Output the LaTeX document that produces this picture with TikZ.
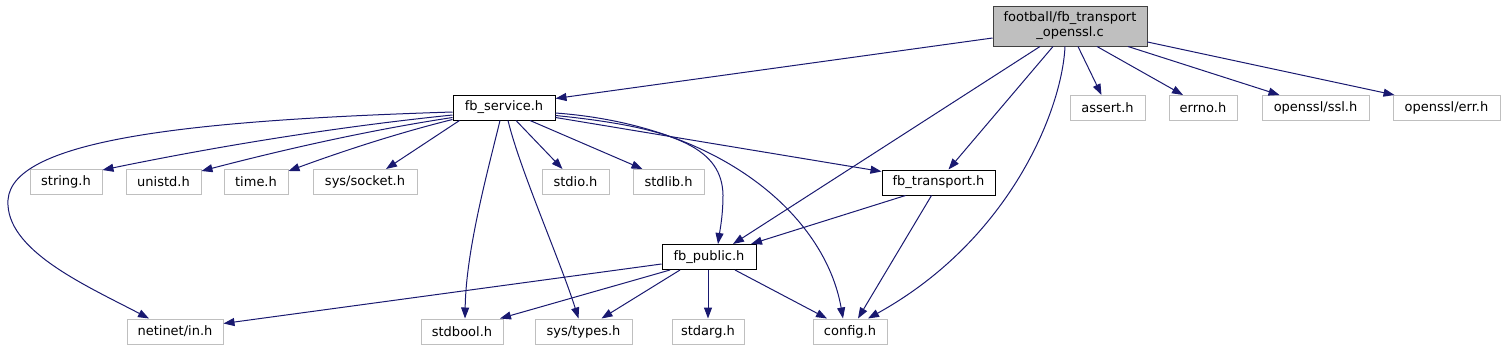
\documentclass[tikz,border=0pt]{standalone}
\usepackage{fontspec}
\setmainfont{DejaVu Sans}
\usetikzlibrary{arrows.meta}
\definecolor{edgeblue}{HTML}{191970}
\definecolor{leafgray}{HTML}{BFBFBF}
\definecolor{rootfill}{HTML}{BFBFBF}
\definecolor{rootdraw}{HTML}{404040}
\begin{document}
\begin{tikzpicture}[x=1pt,y=-1pt,
  nbox/.style={draw, line width=1pt, minimum height=25pt, inner sep=0pt,
    font=\fontsize{13}{15}\selectfont, text=black},
  leaf/.style={nbox, draw=leafgray},
  incl/.style={nbox, draw=black},
  root/.style={nbox, draw=rootdraw, fill=rootfill, align=center, minimum height=40pt},
  dep/.style={draw=edgeblue, line width=1pt, -{Triangle[length=11pt,width=8pt]}}
]
\useasboundingbox (0,0) rectangle (1504,351);

% nodes
\node[root, minimum width=154pt] (T) at (1070,26) {football/fb\_transport\\\_openssl.c};
\node[incl, minimum width=102pt] (svc) at (504,107.5) {fb\_service.h};
\node[leaf, minimum width=75pt] (assert) at (1107.5,108) {assert.h};
\node[leaf, minimum width=68pt] (errno) at (1203,108) {errno.h};
\node[leaf, minimum width=107pt] (ssl) at (1315.5,108) {openssl/ssl.h};
\node[leaf, minimum width=107pt] (err) at (1446.5,108) {openssl/err.h};

\node[leaf, minimum width=72pt] (string) at (66,182) {string.h};
\node[leaf, minimum width=75pt] (unistd) at (163.5,182) {unistd.h};
\node[leaf, minimum width=64pt] (time) at (256,182) {time.h};
\node[leaf, minimum width=104pt] (socket) at (365,182) {sys/socket.h};
\node[leaf, minimum width=67pt] (stdio) at (575.5,182) {stdio.h};
\node[leaf, minimum width=71pt] (stdlib) at (668.5,182) {stdlib.h};
\node[incl, minimum width=113pt] (trans) at (938.5,182.5) {fb\_transport.h};

\node[incl, minimum width=94pt] (pub) at (709,257) {fb\_public.h};

\node[leaf, minimum width=96pt] (netinet) at (175,331.5) {netinet/in.h};
\node[leaf, minimum width=82pt] (stdbool) at (462,331.5) {stdbool.h};
\node[leaf, minimum width=97pt] (types) at (583.5,331.5) {sys/types.h};
\node[leaf, minimum width=72pt] (stdarg) at (708,331.5) {stdarg.h};
\node[leaf, minimum width=74pt] (config) at (850,331.5) {config.h};

% edges from root
\draw[dep] ([yshift=-12pt]T.west) -- ([yshift=-4pt]svc.north east);
\draw[dep] ([xshift=-30pt]T.south) -- ([xshift=24pt]pub.north);
\draw[dep] ([xshift=-17pt]T.south) -- ([xshift=10pt]trans.north);
\draw[dep] ([xshift=-5pt]T.south) .. controls (1062,110) and (1010,240) .. ([xshift=18pt]config.north);
\draw[dep] ([xshift=8pt]T.south) -- ([xshift=-6pt]assert.north);
\draw[dep] ([xshift=27pt]T.south) -- ([xshift=-20pt]errno.north);
\draw[dep] ([xshift=58pt]T.south) -- ([xshift=-36pt]ssl.north);
\draw[dep] ([yshift=-16pt]T.east) -- ([xshift=2pt]err.north west);

% edges from fb_service.h
\draw[dep] ([yshift=-4.5pt]svc.west) .. controls (200,120) and (12,138) .. (8,200)
  .. controls (5,250) and (85,285) .. ([xshift=-26pt]netinet.north);
\draw[dep] ([yshift=-7.5pt]svc.west) .. controls (336,127) and (219,146) .. ([yshift=-1pt]string.north east);
\draw[dep] ([yshift=-10pt]svc.west) .. controls (370,130) and (286,149) .. ([yshift=-2pt]unistd.north east);
\draw[dep] ([yshift=-12pt]svc.west) .. controls (398,133) and (343,151) .. ([yshift=-2pt]time.north east);
\draw[dep] ([xshift=7pt]svc.south west) -- ([xshift=21pt]socket.north);
\draw[dep] ([xshift=12pt]svc.south) -- ([xshift=-13pt]stdio.north);
\draw[dep] ([xshift=26pt]svc.south) -- ([xshift=-26pt]stdlib.north);
\draw[dep] ([xshift=-4pt]svc.south) .. controls (488,170) and (466,250) .. ([xshift=3pt]stdbool.north);
\draw[dep] ([xshift=4pt]svc.south) .. controls (520,170) and (560,260) .. ([xshift=-5pt]types.north);
\draw[dep] ([yshift=-10pt]svc.east) -- ([yshift=-2pt]trans.north west);
\draw[dep] ([yshift=-8pt]svc.east) .. controls (680,128) and (722,150) .. (723,195)
  .. controls (723,215) and (720,230) .. ([xshift=9pt]pub.north);
\draw[dep] ([yshift=-5.5pt]svc.east) .. controls (720,125) and (825,215) .. ([xshift=-7pt]config.north);

% edges from fb_transport.h
\draw[dep] ([xshift=-33pt]trans.south) -- ([xshift=42pt]pub.north);
\draw[dep] ([xshift=-7pt]trans.south) -- ([xshift=8pt]config.north);

% edges from fb_public.h
\draw[dep] ([yshift=-7pt]pub.west) -- ([yshift=8pt]netinet.east);
\draw[dep] ([xshift=-39pt]pub.south) -- ([xshift=38pt]stdbool.north);
\draw[dep] ([xshift=-29pt]pub.south) -- ([xshift=18pt]types.north);
\draw[dep] ([xshift=-1pt]pub.south) -- (stdarg.north);
\draw[dep] ([xshift=26pt]pub.south) -- ([xshift=-23pt]config.north);
\end{tikzpicture}
\end{document}
